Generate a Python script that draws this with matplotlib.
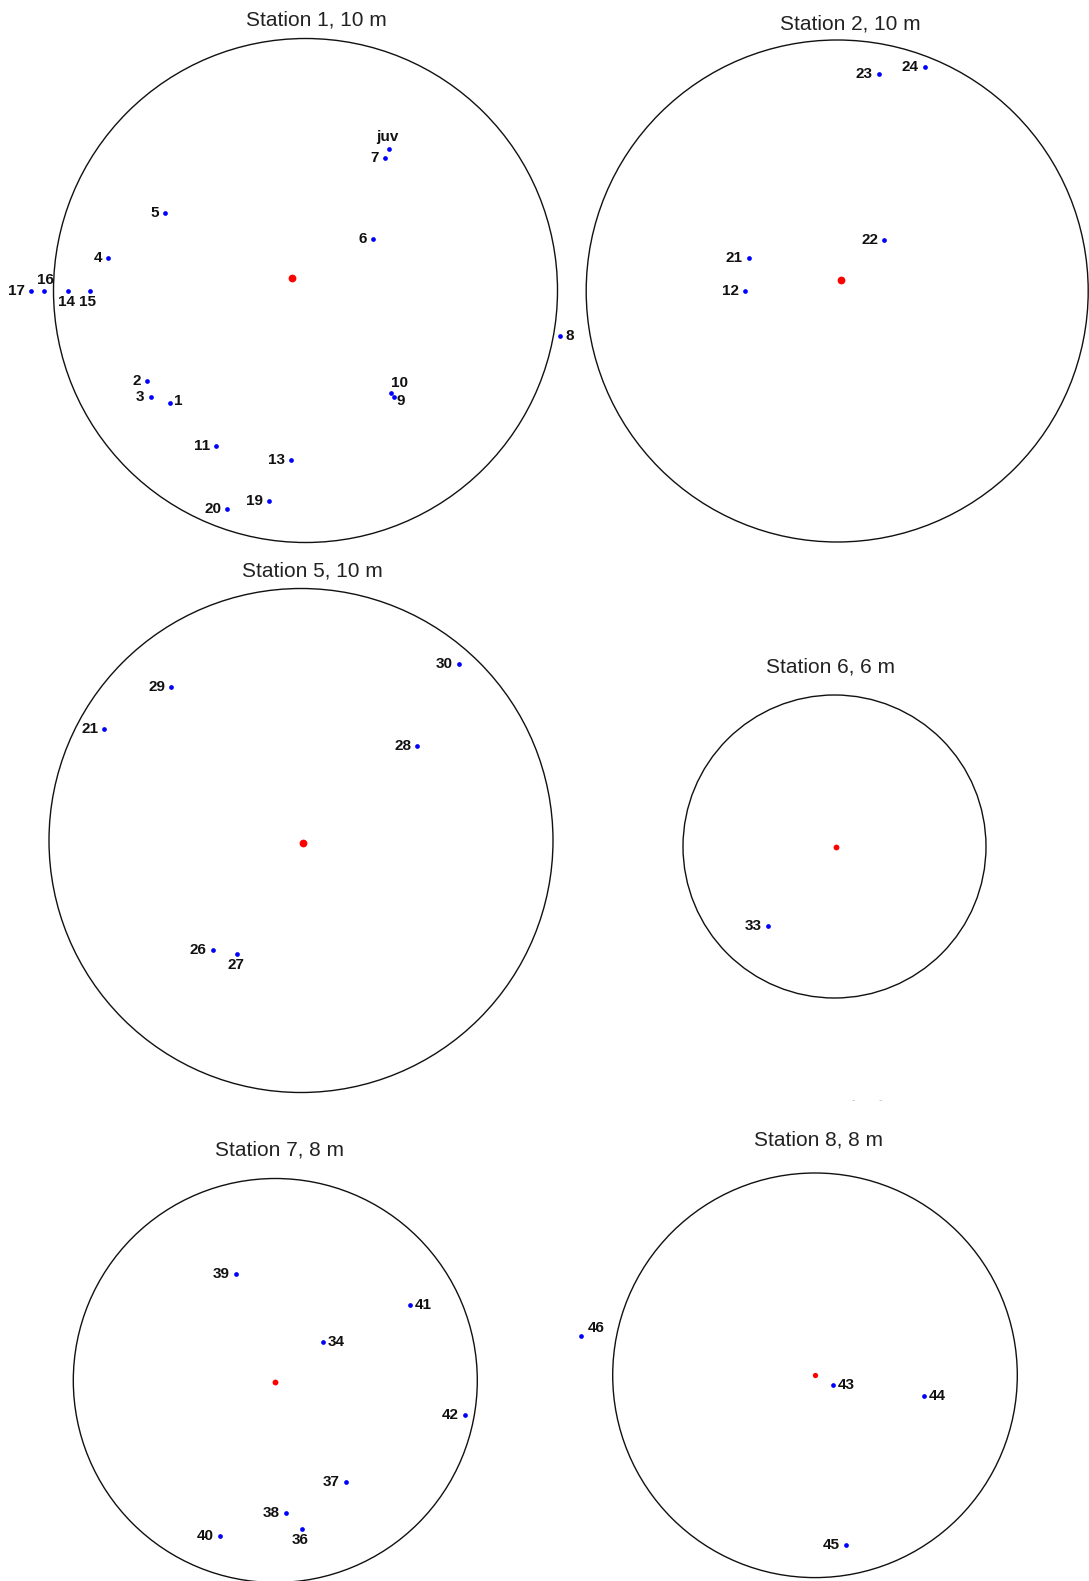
import matplotlib
matplotlib.use("Agg")
import matplotlib.pyplot as plt
from matplotlib.patches import Circle

# ------------------------------------------------------------------
# DATA: positions in metres relative to the plot centre (x east, y north)
# ------------------------------------------------------------------
st1_title = "Station 1, 10 m"
st1_radius = 10
st1_labels = ["1", "2", "3", "4", "5", "6", "7", "juv", "8", "9", "10",
              "11", "13", "14", "15", "16", "17", "19", "20"]
st1_x = [-5.39, -6.29, -6.15, -7.83, -5.56, 2.69, 3.14, 3.31, 10.11, 3.50, 3.41,
         -3.54, -0.57, -9.41, -8.56, -10.37, -10.88, -1.43, -3.11]
st1_y = [-4.48, -3.58, -4.24, 1.30, 3.09, 2.06, 5.26, 5.60, -1.81, -4.24, -4.08,
         -6.17, -6.74, -0.02, -0.02, -0.02, -0.02, -8.37, -8.68]
st1_ref = (-0.54, 0.51)

st2_title = "Station 2, 10 m"
st2_radius = 10
st2_labels = ["23", "24", "22", "21", "12"]
st2_x = [1.65, 3.49, 1.88, -3.53, -3.67]
st2_y = [8.65, 8.94, 2.05, 1.33, 0.00]
st2_ref = (0.14, 0.45)

st5_title = "Station 5, 10 m"
st5_radius = 10
st5_labels = ["30", "29", "21", "28", "26", "27"]
st5_x = [6.25, -5.14, -7.81, 4.62, -3.51, -2.52]
st5_y = [7.02, 6.11, 4.41, 3.75, -4.35, -4.50]
st5_ref = (0.08, -0.09)

st6_title = "Station 6, 6 m"
st6_radius = 6
st6_labels = ["33"]
st6_x = [-2.63]
st6_y = [-3.14]
st6_ref = (0.06, -0.03)

st7_title = "Station 7, 8 m"
st7_radius = 8
st7_labels = ["39", "41", "34", "42", "37", "38", "36", "40"]
st7_x = [-1.57, 5.33, 1.88, 7.52, 2.80, 0.42, 1.05, -2.19]
st7_y = [4.21, 2.99, 1.52, -1.37, -4.01, -5.24, -5.87, -6.15]
st7_ref = (-0.01, -0.05)

st8_title = "Station 8, 8 m"
st8_radius = 8
st8_labels = ["43", "44", "45", "46"]
st8_x = [0.72, 4.31, 1.21, -9.24]
st8_y = [-0.37, -0.82, -6.71, 1.55]
st8_ref = (0.01, 0.00)

# ------------------------------------------------------------------
# LAYOUT (pixel geometry of the page) and label placement
# ------------------------------------------------------------------
W, H, DPI = 1089, 1581, 100

layout = {
    "st1": dict(c=(305.5, 290.5), r=252.0, title=(316.6, 20.5), ref_ms=5.6),
    "st2": dict(c=(837.2, 291.0), r=251.0, title=(850.0, 23.5), ref_ms=5.6),
    "st5": dict(c=(301.0, 840.5), r=252.0, title=(312.6, 571.0), ref_ms=5.6),
    "st6": dict(c=(834.5, 846.5), r=151.5, title=(830.9, 667.0), ref_ms=4.2),
    "st7": dict(c=(275.3, 1380.5), r=202.0, title=(279.3, 1149.5), ref_ms=4.2),
    "st8": dict(c=(815.0, 1375.3), r=202.3, title=(818.8, 1140.5), ref_ms=3.8),
}

# placement codes -> (dx px, dy px (up), ha, va)
codes = {
    "l": (-6, 0, "right", "center"),
    "r": (5, 0, "left", "center"),
    "a": (1, 11, "center", "center"),
    "b": (-2, -11, "center", "center"),
    "juv": (-2, 12, "center", "center"),
    "ar": (8, 10, "center", "center"),
    "br": (3, -4, "left", "center"),
    "ur": (6, 8, "left", "center"),
    "r1": (4, 2, "left", "center"),
}
placement = {
    ("st1", "juv"): "juv", ("st1", "16"): "a", ("st1", "14"): "b",
    ("st1", "15"): "b", ("st1", "8"): "r", ("st1", "1"): "r1",
    ("st1", "10"): "ar", ("st1", "9"): "br",
    ("st5", "27"): "b",
    ("st7", "41"): "r", ("st7", "34"): "r", ("st7", "36"): "b",
    ("st8", "43"): "r", ("st8", "44"): "r", ("st8", "46"): "ur",
}

stations = [
    ("st1", st1_title, st1_radius, st1_labels, st1_x, st1_y, st1_ref),
    ("st2", st2_title, st2_radius, st2_labels, st2_x, st2_y, st2_ref),
    ("st5", st5_title, st5_radius, st5_labels, st5_x, st5_y, st5_ref),
    ("st6", st6_title, st6_radius, st6_labels, st6_x, st6_y, st6_ref),
    ("st7", st7_title, st7_radius, st7_labels, st7_x, st7_y, st7_ref),
    ("st8", st8_title, st8_radius, st8_labels, st8_x, st8_y, st8_ref),
]

plt.rcParams["font.family"] = ["Liberation Sans", "DejaVu Sans"]
fig = plt.figure(figsize=(W / DPI, H / DPI), dpi=DPI)
fig.patch.set_facecolor("white")

for key, title, R, labels, xs, ys, ref in stations:
    lay = layout[key]
    cx, cy = lay["c"]
    r = lay["r"]
    ax = fig.add_axes([(cx - r) / W, 1 - (cy + r) / H, 2 * r / W, 2 * r / H])
    ax.set_xlim(-R, R)
    ax.set_ylim(-R, R)
    ax.axis("off")
    ax.patch.set_alpha(0)
    ax.add_patch(Circle((0, 0), R, fill=False, edgecolor="#111111",
                        linewidth=1.0, clip_on=False))
    ax.plot([ref[0]], [ref[1]], "o", color="#ff0000", markersize=lay["ref_ms"],
            markeredgewidth=0, clip_on=False)
    ax.plot(xs, ys, "o", color="#0000ff", markersize=3.4,
            markeredgewidth=0, linestyle="none", clip_on=False)
    for lab, x, y in zip(labels, xs, ys):
        dx, dy, ha, va = codes[placement.get((key, lab), "l")]
        ax.annotate(lab, (x, y), xytext=(dx, dy), textcoords="offset pixels",
                    ha=ha, va=va, fontsize=11, fontweight="bold",
                    color="#111111", annotation_clip=False)
    tx, ty = lay["title"]
    fig.text(tx / W, 1 - ty / H, title, ha="center", va="center",
             fontsize=15, color="#222222")

# two faint scan marks present on the original page
for mx in (853, 880):
    fig.text(mx / W, 1 - 1100.5 / H, "-", ha="center", va="center",
             fontsize=7, color="#bbbbbb")

fig.savefig("out.png", dpi=DPI, facecolor="white")
